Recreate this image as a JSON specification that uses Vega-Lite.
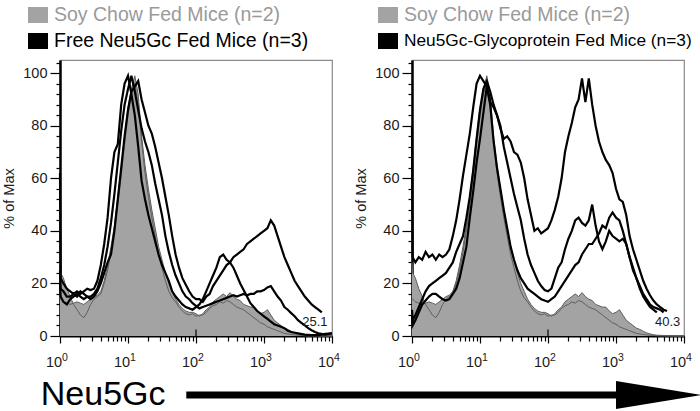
{
 "$schema": "https://vega.github.io/schema/vega-lite/v6.json",
 "padding": {"left": 1, "top": 4, "right": 0, "bottom": 0},
 "background": "white",
 "config": {
  "font": "Liberation Sans",
  "view": {"stroke": "#8a8a8a", "strokeWidth": 1.2},
  "axis": {"grid": false, "domainColor": "#000000", "tickColor": "#000000", "labelColor": "#1a1a1a", "titleColor": "#1a1a1a", "labelFont": "Liberation Sans", "titleFont": "Liberation Sans", "labelFontSize": 14.5, "titleFontSize": 14.5, "titleFontWeight": "normal"}
 },
 "datasets": {
  "soy": [
   {"mouse":"S1","diet":"soy","intensity":1,"pct":14},{"mouse":"S1","diet":"soy","intensity":1.023,"pct":14},{"mouse":"S1","diet":"soy","intensity":1.122,"pct":13},{"mouse":"S1","diet":"soy","intensity":1.259,"pct":12.5},{"mouse":"S1","diet":"soy","intensity":1.413,"pct":12},{"mouse":"S1","diet":"soy","intensity":1.585,"pct":12.5},{"mouse":"S1","diet":"soy","intensity":1.778,"pct":13},{"mouse":"S1","diet":"soy","intensity":1.995,"pct":12.5},{"mouse":"S1","diet":"soy","intensity":2.239,"pct":12},{"mouse":"S1","diet":"soy","intensity":2.512,"pct":13},{"mouse":"S1","diet":"soy","intensity":2.818,"pct":14},{"mouse":"S1","diet":"soy","intensity":3.162,"pct":15},{"mouse":"S1","diet":"soy","intensity":3.548,"pct":15.5},{"mouse":"S1","diet":"soy","intensity":3.981,"pct":17},{"mouse":"S1","diet":"soy","intensity":4.467,"pct":21},{"mouse":"S1","diet":"soy","intensity":5.012,"pct":27},{"mouse":"S1","diet":"soy","intensity":5.623,"pct":34},{"mouse":"S1","diet":"soy","intensity":6.31,"pct":42},{"mouse":"S1","diet":"soy","intensity":7.079,"pct":53},{"mouse":"S1","diet":"soy","intensity":7.943,"pct":64},{"mouse":"S1","diet":"soy","intensity":8.913,"pct":76},{"mouse":"S1","diet":"soy","intensity":10,"pct":87},{"mouse":"S1","diet":"soy","intensity":11.22,"pct":94},{"mouse":"S1","diet":"soy","intensity":12.59,"pct":99},{"mouse":"S1","diet":"soy","intensity":14.13,"pct":92},{"mouse":"S1","diet":"soy","intensity":15.85,"pct":76},{"mouse":"S1","diet":"soy","intensity":17.78,"pct":65},{"mouse":"S1","diet":"soy","intensity":19.95,"pct":56},{"mouse":"S1","diet":"soy","intensity":22.39,"pct":48},{"mouse":"S1","diet":"soy","intensity":25.12,"pct":41},{"mouse":"S1","diet":"soy","intensity":28.18,"pct":34},{"mouse":"S1","diet":"soy","intensity":31.62,"pct":29},{"mouse":"S1","diet":"soy","intensity":35.48,"pct":24},{"mouse":"S1","diet":"soy","intensity":39.81,"pct":20},{"mouse":"S1","diet":"soy","intensity":44.67,"pct":17},{"mouse":"S1","diet":"soy","intensity":50.12,"pct":14},{"mouse":"S1","diet":"soy","intensity":56.23,"pct":12},{"mouse":"S1","diet":"soy","intensity":63.1,"pct":10.5},{"mouse":"S1","diet":"soy","intensity":70.79,"pct":9.5},{"mouse":"S1","diet":"soy","intensity":79.43,"pct":9},{"mouse":"S1","diet":"soy","intensity":89.13,"pct":9},{"mouse":"S1","diet":"soy","intensity":100,"pct":8.5},{"mouse":"S1","diet":"soy","intensity":112.2,"pct":7.5},{"mouse":"S1","diet":"soy","intensity":125.9,"pct":8.5},{"mouse":"S1","diet":"soy","intensity":141.3,"pct":10},{"mouse":"S1","diet":"soy","intensity":158.5,"pct":11},{"mouse":"S1","diet":"soy","intensity":177.8,"pct":13},{"mouse":"S1","diet":"soy","intensity":199.5,"pct":14},{"mouse":"S1","diet":"soy","intensity":223.9,"pct":15},{"mouse":"S1","diet":"soy","intensity":251.2,"pct":16},{"mouse":"S1","diet":"soy","intensity":281.8,"pct":15},{"mouse":"S1","diet":"soy","intensity":316.2,"pct":16.5},{"mouse":"S1","diet":"soy","intensity":354.8,"pct":15},{"mouse":"S1","diet":"soy","intensity":398.1,"pct":14},{"mouse":"S1","diet":"soy","intensity":446.7,"pct":13.5},{"mouse":"S1","diet":"soy","intensity":501.2,"pct":12},{"mouse":"S1","diet":"soy","intensity":562.3,"pct":11.5},{"mouse":"S1","diet":"soy","intensity":631,"pct":11},{"mouse":"S1","diet":"soy","intensity":707.9,"pct":11},{"mouse":"S1","diet":"soy","intensity":794.3,"pct":9.5},{"mouse":"S1","diet":"soy","intensity":891.3,"pct":8.5},{"mouse":"S1","diet":"soy","intensity":1000,"pct":9},{"mouse":"S1","diet":"soy","intensity":1122,"pct":10},{"mouse":"S1","diet":"soy","intensity":1259,"pct":8},{"mouse":"S1","diet":"soy","intensity":1413,"pct":6},{"mouse":"S1","diet":"soy","intensity":1585,"pct":5},{"mouse":"S1","diet":"soy","intensity":1778,"pct":4},{"mouse":"S1","diet":"soy","intensity":1995,"pct":3},{"mouse":"S1","diet":"soy","intensity":2239,"pct":2.5},{"mouse":"S1","diet":"soy","intensity":2512,"pct":1.8},{"mouse":"S1","diet":"soy","intensity":2818,"pct":1.2},{"mouse":"S1","diet":"soy","intensity":3162,"pct":0.8},{"mouse":"S1","diet":"soy","intensity":3548,"pct":0.5},{"mouse":"S1","diet":"soy","intensity":3981,"pct":0.3},{"mouse":"S1","diet":"soy","intensity":5012,"pct":0.2},{"mouse":"S1","diet":"soy","intensity":6310,"pct":0.1},{"mouse":"S1","diet":"soy","intensity":7943,"pct":0},{"mouse":"S1","diet":"soy","intensity":10000,"pct":0},
   {"mouse":"S2","diet":"soy","intensity":1,"pct":28},{"mouse":"S2","diet":"soy","intensity":1.023,"pct":24},{"mouse":"S2","diet":"soy","intensity":1.122,"pct":22},{"mouse":"S2","diet":"soy","intensity":1.259,"pct":18},{"mouse":"S2","diet":"soy","intensity":1.413,"pct":15},{"mouse":"S2","diet":"soy","intensity":1.585,"pct":12},{"mouse":"S2","diet":"soy","intensity":1.778,"pct":10},{"mouse":"S2","diet":"soy","intensity":1.995,"pct":8},{"mouse":"S2","diet":"soy","intensity":2.239,"pct":7},{"mouse":"S2","diet":"soy","intensity":2.512,"pct":9},{"mouse":"S2","diet":"soy","intensity":2.818,"pct":12},{"mouse":"S2","diet":"soy","intensity":3.162,"pct":14},{"mouse":"S2","diet":"soy","intensity":3.548,"pct":15},{"mouse":"S2","diet":"soy","intensity":3.981,"pct":16},{"mouse":"S2","diet":"soy","intensity":4.467,"pct":20},{"mouse":"S2","diet":"soy","intensity":5.012,"pct":25},{"mouse":"S2","diet":"soy","intensity":5.623,"pct":32},{"mouse":"S2","diet":"soy","intensity":6.31,"pct":40},{"mouse":"S2","diet":"soy","intensity":7.079,"pct":50},{"mouse":"S2","diet":"soy","intensity":7.943,"pct":61},{"mouse":"S2","diet":"soy","intensity":8.913,"pct":73},{"mouse":"S2","diet":"soy","intensity":10,"pct":84},{"mouse":"S2","diet":"soy","intensity":11.22,"pct":92},{"mouse":"S2","diet":"soy","intensity":12.59,"pct":96},{"mouse":"S2","diet":"soy","intensity":14.13,"pct":88},{"mouse":"S2","diet":"soy","intensity":15.85,"pct":74},{"mouse":"S2","diet":"soy","intensity":17.78,"pct":62},{"mouse":"S2","diet":"soy","intensity":19.95,"pct":53},{"mouse":"S2","diet":"soy","intensity":22.39,"pct":45},{"mouse":"S2","diet":"soy","intensity":25.12,"pct":38},{"mouse":"S2","diet":"soy","intensity":28.18,"pct":31},{"mouse":"S2","diet":"soy","intensity":31.62,"pct":26},{"mouse":"S2","diet":"soy","intensity":35.48,"pct":21},{"mouse":"S2","diet":"soy","intensity":39.81,"pct":17},{"mouse":"S2","diet":"soy","intensity":44.67,"pct":14.5},{"mouse":"S2","diet":"soy","intensity":50.12,"pct":13},{"mouse":"S2","diet":"soy","intensity":56.23,"pct":11},{"mouse":"S2","diet":"soy","intensity":63.1,"pct":9.5},{"mouse":"S2","diet":"soy","intensity":70.79,"pct":8.5},{"mouse":"S2","diet":"soy","intensity":79.43,"pct":8},{"mouse":"S2","diet":"soy","intensity":89.13,"pct":8.5},{"mouse":"S2","diet":"soy","intensity":100,"pct":7.5},{"mouse":"S2","diet":"soy","intensity":112.2,"pct":8},{"mouse":"S2","diet":"soy","intensity":125.9,"pct":8},{"mouse":"S2","diet":"soy","intensity":141.3,"pct":9},{"mouse":"S2","diet":"soy","intensity":158.5,"pct":10.5},{"mouse":"S2","diet":"soy","intensity":177.8,"pct":11.5},{"mouse":"S2","diet":"soy","intensity":199.5,"pct":12},{"mouse":"S2","diet":"soy","intensity":223.9,"pct":13},{"mouse":"S2","diet":"soy","intensity":251.2,"pct":12.5},{"mouse":"S2","diet":"soy","intensity":281.8,"pct":13.5},{"mouse":"S2","diet":"soy","intensity":316.2,"pct":13},{"mouse":"S2","diet":"soy","intensity":354.8,"pct":12},{"mouse":"S2","diet":"soy","intensity":398.1,"pct":11},{"mouse":"S2","diet":"soy","intensity":446.7,"pct":10.5},{"mouse":"S2","diet":"soy","intensity":501.2,"pct":10},{"mouse":"S2","diet":"soy","intensity":562.3,"pct":9},{"mouse":"S2","diet":"soy","intensity":631,"pct":8},{"mouse":"S2","diet":"soy","intensity":707.9,"pct":7},{"mouse":"S2","diet":"soy","intensity":794.3,"pct":6},{"mouse":"S2","diet":"soy","intensity":891.3,"pct":5},{"mouse":"S2","diet":"soy","intensity":1000,"pct":4.5},{"mouse":"S2","diet":"soy","intensity":1122,"pct":3.5},{"mouse":"S2","diet":"soy","intensity":1259,"pct":3},{"mouse":"S2","diet":"soy","intensity":1413,"pct":2.5},{"mouse":"S2","diet":"soy","intensity":1585,"pct":2},{"mouse":"S2","diet":"soy","intensity":1778,"pct":1.5},{"mouse":"S2","diet":"soy","intensity":1995,"pct":1},{"mouse":"S2","diet":"soy","intensity":2239,"pct":0.8},{"mouse":"S2","diet":"soy","intensity":2512,"pct":0.6},{"mouse":"S2","diet":"soy","intensity":2818,"pct":0.4},{"mouse":"S2","diet":"soy","intensity":3162,"pct":0.3},{"mouse":"S2","diet":"soy","intensity":3548,"pct":0.2},{"mouse":"S2","diet":"soy","intensity":3981,"pct":0.1},{"mouse":"S2","diet":"soy","intensity":5012,"pct":0},{"mouse":"S2","diet":"soy","intensity":10000,"pct":0}
  ],
  "free": [
   {"mouse":"F1","diet":"free","intensity":1,"pct":62},{"mouse":"F1","diet":"free","intensity":1.023,"pct":22},{"mouse":"F1","diet":"free","intensity":1.122,"pct":20},{"mouse":"F1","diet":"free","intensity":1.259,"pct":18},{"mouse":"F1","diet":"free","intensity":1.413,"pct":17},{"mouse":"F1","diet":"free","intensity":1.585,"pct":16},{"mouse":"F1","diet":"free","intensity":1.778,"pct":17},{"mouse":"F1","diet":"free","intensity":1.995,"pct":16},{"mouse":"F1","diet":"free","intensity":2.239,"pct":17},{"mouse":"F1","diet":"free","intensity":2.512,"pct":18},{"mouse":"F1","diet":"free","intensity":2.818,"pct":17.5},{"mouse":"F1","diet":"free","intensity":3.162,"pct":18},{"mouse":"F1","diet":"free","intensity":3.548,"pct":21},{"mouse":"F1","diet":"free","intensity":3.981,"pct":27},{"mouse":"F1","diet":"free","intensity":4.467,"pct":35},{"mouse":"F1","diet":"free","intensity":5.012,"pct":45},{"mouse":"F1","diet":"free","intensity":5.623,"pct":60},{"mouse":"F1","diet":"free","intensity":6.31,"pct":70},{"mouse":"F1","diet":"free","intensity":7.079,"pct":73},{"mouse":"F1","diet":"free","intensity":7.943,"pct":88},{"mouse":"F1","diet":"free","intensity":8.913,"pct":96},{"mouse":"F1","diet":"free","intensity":10,"pct":99},{"mouse":"F1","diet":"free","intensity":11.22,"pct":92},{"mouse":"F1","diet":"free","intensity":12.59,"pct":84},{"mouse":"F1","diet":"free","intensity":14.13,"pct":72},{"mouse":"F1","diet":"free","intensity":15.85,"pct":59},{"mouse":"F1","diet":"free","intensity":17.78,"pct":52},{"mouse":"F1","diet":"free","intensity":19.95,"pct":46},{"mouse":"F1","diet":"free","intensity":22.39,"pct":41},{"mouse":"F1","diet":"free","intensity":25.12,"pct":36},{"mouse":"F1","diet":"free","intensity":28.18,"pct":31},{"mouse":"F1","diet":"free","intensity":31.62,"pct":27},{"mouse":"F1","diet":"free","intensity":35.48,"pct":24},{"mouse":"F1","diet":"free","intensity":39.81,"pct":21},{"mouse":"F1","diet":"free","intensity":44.67,"pct":17},{"mouse":"F1","diet":"free","intensity":50.12,"pct":15},{"mouse":"F1","diet":"free","intensity":56.23,"pct":13.5},{"mouse":"F1","diet":"free","intensity":63.1,"pct":12},{"mouse":"F1","diet":"free","intensity":70.79,"pct":11},{"mouse":"F1","diet":"free","intensity":79.43,"pct":10.5},{"mouse":"F1","diet":"free","intensity":89.13,"pct":10},{"mouse":"F1","diet":"free","intensity":100,"pct":11},{"mouse":"F1","diet":"free","intensity":112.2,"pct":12},{"mouse":"F1","diet":"free","intensity":125.9,"pct":14},{"mouse":"F1","diet":"free","intensity":141.3,"pct":17},{"mouse":"F1","diet":"free","intensity":158.5,"pct":20},{"mouse":"F1","diet":"free","intensity":177.8,"pct":23},{"mouse":"F1","diet":"free","intensity":199.5,"pct":26},{"mouse":"F1","diet":"free","intensity":223.9,"pct":30},{"mouse":"F1","diet":"free","intensity":251.2,"pct":31},{"mouse":"F1","diet":"free","intensity":281.8,"pct":29},{"mouse":"F1","diet":"free","intensity":316.2,"pct":28},{"mouse":"F1","diet":"free","intensity":354.8,"pct":26},{"mouse":"F1","diet":"free","intensity":398.1,"pct":23},{"mouse":"F1","diet":"free","intensity":446.7,"pct":20},{"mouse":"F1","diet":"free","intensity":501.2,"pct":17.5},{"mouse":"F1","diet":"free","intensity":562.3,"pct":15},{"mouse":"F1","diet":"free","intensity":631,"pct":12.5},{"mouse":"F1","diet":"free","intensity":707.9,"pct":11},{"mouse":"F1","diet":"free","intensity":794.3,"pct":9.5},{"mouse":"F1","diet":"free","intensity":891.3,"pct":8.5},{"mouse":"F1","diet":"free","intensity":1000,"pct":7.5},{"mouse":"F1","diet":"free","intensity":1122,"pct":6.5},{"mouse":"F1","diet":"free","intensity":1259,"pct":5.5},{"mouse":"F1","diet":"free","intensity":1413,"pct":4.5},{"mouse":"F1","diet":"free","intensity":1585,"pct":4},{"mouse":"F1","diet":"free","intensity":1778,"pct":3.5},{"mouse":"F1","diet":"free","intensity":1995,"pct":3},{"mouse":"F1","diet":"free","intensity":2239,"pct":2},{"mouse":"F1","diet":"free","intensity":2512,"pct":1.5},{"mouse":"F1","diet":"free","intensity":3162,"pct":1},{"mouse":"F1","diet":"free","intensity":3981,"pct":0.5},{"mouse":"F1","diet":"free","intensity":5012,"pct":0.3},{"mouse":"F1","diet":"free","intensity":6310,"pct":0.3},{"mouse":"F1","diet":"free","intensity":7943,"pct":0.8},{"mouse":"F1","diet":"free","intensity":10000,"pct":1},
   {"mouse":"F2","diet":"free","intensity":1,"pct":20},{"mouse":"F2","diet":"free","intensity":1.023,"pct":15},{"mouse":"F2","diet":"free","intensity":1.122,"pct":13},{"mouse":"F2","diet":"free","intensity":1.259,"pct":12},{"mouse":"F2","diet":"free","intensity":1.413,"pct":14},{"mouse":"F2","diet":"free","intensity":1.585,"pct":15},{"mouse":"F2","diet":"free","intensity":1.778,"pct":16},{"mouse":"F2","diet":"free","intensity":1.995,"pct":15},{"mouse":"F2","diet":"free","intensity":2.239,"pct":14},{"mouse":"F2","diet":"free","intensity":2.512,"pct":15},{"mouse":"F2","diet":"free","intensity":2.818,"pct":14},{"mouse":"F2","diet":"free","intensity":3.162,"pct":15},{"mouse":"F2","diet":"free","intensity":3.548,"pct":17},{"mouse":"F2","diet":"free","intensity":3.981,"pct":20},{"mouse":"F2","diet":"free","intensity":4.467,"pct":24},{"mouse":"F2","diet":"free","intensity":5.012,"pct":28},{"mouse":"F2","diet":"free","intensity":5.623,"pct":31},{"mouse":"F2","diet":"free","intensity":6.31,"pct":40},{"mouse":"F2","diet":"free","intensity":7.079,"pct":52},{"mouse":"F2","diet":"free","intensity":7.943,"pct":64},{"mouse":"F2","diet":"free","intensity":8.913,"pct":76},{"mouse":"F2","diet":"free","intensity":10,"pct":86},{"mouse":"F2","diet":"free","intensity":11.22,"pct":93},{"mouse":"F2","diet":"free","intensity":12.59,"pct":95},{"mouse":"F2","diet":"free","intensity":14.13,"pct":97},{"mouse":"F2","diet":"free","intensity":15.85,"pct":90},{"mouse":"F2","diet":"free","intensity":17.78,"pct":85},{"mouse":"F2","diet":"free","intensity":19.95,"pct":80},{"mouse":"F2","diet":"free","intensity":22.39,"pct":77},{"mouse":"F2","diet":"free","intensity":25.12,"pct":72},{"mouse":"F2","diet":"free","intensity":28.18,"pct":66},{"mouse":"F2","diet":"free","intensity":31.62,"pct":60},{"mouse":"F2","diet":"free","intensity":35.48,"pct":53},{"mouse":"F2","diet":"free","intensity":39.81,"pct":46},{"mouse":"F2","diet":"free","intensity":44.67,"pct":38},{"mouse":"F2","diet":"free","intensity":50.12,"pct":31},{"mouse":"F2","diet":"free","intensity":56.23,"pct":26},{"mouse":"F2","diet":"free","intensity":63.1,"pct":22},{"mouse":"F2","diet":"free","intensity":70.79,"pct":19.5},{"mouse":"F2","diet":"free","intensity":79.43,"pct":17},{"mouse":"F2","diet":"free","intensity":89.13,"pct":15},{"mouse":"F2","diet":"free","intensity":100,"pct":14},{"mouse":"F2","diet":"free","intensity":112.2,"pct":14},{"mouse":"F2","diet":"free","intensity":125.9,"pct":13},{"mouse":"F2","diet":"free","intensity":141.3,"pct":15},{"mouse":"F2","diet":"free","intensity":158.5,"pct":16},{"mouse":"F2","diet":"free","intensity":177.8,"pct":19},{"mouse":"F2","diet":"free","intensity":199.5,"pct":21},{"mouse":"F2","diet":"free","intensity":223.9,"pct":23},{"mouse":"F2","diet":"free","intensity":251.2,"pct":25},{"mouse":"F2","diet":"free","intensity":281.8,"pct":27},{"mouse":"F2","diet":"free","intensity":316.2,"pct":28},{"mouse":"F2","diet":"free","intensity":354.8,"pct":30},{"mouse":"F2","diet":"free","intensity":398.1,"pct":31},{"mouse":"F2","diet":"free","intensity":446.7,"pct":32},{"mouse":"F2","diet":"free","intensity":501.2,"pct":33},{"mouse":"F2","diet":"free","intensity":562.3,"pct":35},{"mouse":"F2","diet":"free","intensity":631,"pct":36},{"mouse":"F2","diet":"free","intensity":707.9,"pct":37},{"mouse":"F2","diet":"free","intensity":794.3,"pct":38},{"mouse":"F2","diet":"free","intensity":891.3,"pct":39},{"mouse":"F2","diet":"free","intensity":1000,"pct":40},{"mouse":"F2","diet":"free","intensity":1122,"pct":41},{"mouse":"F2","diet":"free","intensity":1259,"pct":44},{"mouse":"F2","diet":"free","intensity":1413,"pct":42},{"mouse":"F2","diet":"free","intensity":1585,"pct":38},{"mouse":"F2","diet":"free","intensity":1778,"pct":34},{"mouse":"F2","diet":"free","intensity":1995,"pct":30},{"mouse":"F2","diet":"free","intensity":2239,"pct":27},{"mouse":"F2","diet":"free","intensity":2512,"pct":24},{"mouse":"F2","diet":"free","intensity":2818,"pct":21},{"mouse":"F2","diet":"free","intensity":3162,"pct":19},{"mouse":"F2","diet":"free","intensity":3548,"pct":17},{"mouse":"F2","diet":"free","intensity":3981,"pct":15},{"mouse":"F2","diet":"free","intensity":4467,"pct":13.5},{"mouse":"F2","diet":"free","intensity":5012,"pct":12},{"mouse":"F2","diet":"free","intensity":5623,"pct":11},{"mouse":"F2","diet":"free","intensity":6310,"pct":10},{"mouse":"F2","diet":"free","intensity":7079,"pct":9},
   {"mouse":"F3","diet":"free","intensity":1,"pct":25},{"mouse":"F3","diet":"free","intensity":1.023,"pct":18},{"mouse":"F3","diet":"free","intensity":1.122,"pct":17},{"mouse":"F3","diet":"free","intensity":1.259,"pct":15},{"mouse":"F3","diet":"free","intensity":1.413,"pct":15},{"mouse":"F3","diet":"free","intensity":1.585,"pct":16},{"mouse":"F3","diet":"free","intensity":1.778,"pct":15},{"mouse":"F3","diet":"free","intensity":1.995,"pct":17},{"mouse":"F3","diet":"free","intensity":2.239,"pct":16},{"mouse":"F3","diet":"free","intensity":2.512,"pct":15},{"mouse":"F3","diet":"free","intensity":2.818,"pct":15},{"mouse":"F3","diet":"free","intensity":3.162,"pct":16},{"mouse":"F3","diet":"free","intensity":3.548,"pct":18},{"mouse":"F3","diet":"free","intensity":3.981,"pct":22},{"mouse":"F3","diet":"free","intensity":4.467,"pct":27},{"mouse":"F3","diet":"free","intensity":5.012,"pct":34},{"mouse":"F3","diet":"free","intensity":5.623,"pct":43},{"mouse":"F3","diet":"free","intensity":6.31,"pct":54},{"mouse":"F3","diet":"free","intensity":7.079,"pct":66},{"mouse":"F3","diet":"free","intensity":7.943,"pct":78},{"mouse":"F3","diet":"free","intensity":8.913,"pct":88},{"mouse":"F3","diet":"free","intensity":10,"pct":94},{"mouse":"F3","diet":"free","intensity":11.22,"pct":99},{"mouse":"F3","diet":"free","intensity":12.59,"pct":93},{"mouse":"F3","diet":"free","intensity":14.13,"pct":86},{"mouse":"F3","diet":"free","intensity":15.85,"pct":79},{"mouse":"F3","diet":"free","intensity":17.78,"pct":74},{"mouse":"F3","diet":"free","intensity":19.95,"pct":70},{"mouse":"F3","diet":"free","intensity":22.39,"pct":65},{"mouse":"F3","diet":"free","intensity":25.12,"pct":58},{"mouse":"F3","diet":"free","intensity":28.18,"pct":52},{"mouse":"F3","diet":"free","intensity":31.62,"pct":46},{"mouse":"F3","diet":"free","intensity":35.48,"pct":38},{"mouse":"F3","diet":"free","intensity":39.81,"pct":32},{"mouse":"F3","diet":"free","intensity":44.67,"pct":27},{"mouse":"F3","diet":"free","intensity":50.12,"pct":23},{"mouse":"F3","diet":"free","intensity":56.23,"pct":20},{"mouse":"F3","diet":"free","intensity":63.1,"pct":17},{"mouse":"F3","diet":"free","intensity":70.79,"pct":15},{"mouse":"F3","diet":"free","intensity":79.43,"pct":14},{"mouse":"F3","diet":"free","intensity":89.13,"pct":12.5},{"mouse":"F3","diet":"free","intensity":100,"pct":11.5},{"mouse":"F3","diet":"free","intensity":112.2,"pct":10.5},{"mouse":"F3","diet":"free","intensity":125.9,"pct":11},{"mouse":"F3","diet":"free","intensity":141.3,"pct":11.5},{"mouse":"F3","diet":"free","intensity":158.5,"pct":12},{"mouse":"F3","diet":"free","intensity":177.8,"pct":12.5},{"mouse":"F3","diet":"free","intensity":199.5,"pct":13},{"mouse":"F3","diet":"free","intensity":223.9,"pct":13.5},{"mouse":"F3","diet":"free","intensity":251.2,"pct":14},{"mouse":"F3","diet":"free","intensity":281.8,"pct":14.5},{"mouse":"F3","diet":"free","intensity":316.2,"pct":15},{"mouse":"F3","diet":"free","intensity":354.8,"pct":15.5},{"mouse":"F3","diet":"free","intensity":398.1,"pct":15},{"mouse":"F3","diet":"free","intensity":446.7,"pct":15.5},{"mouse":"F3","diet":"free","intensity":501.2,"pct":16},{"mouse":"F3","diet":"free","intensity":562.3,"pct":15.5},{"mouse":"F3","diet":"free","intensity":631,"pct":16},{"mouse":"F3","diet":"free","intensity":707.9,"pct":16},{"mouse":"F3","diet":"free","intensity":794.3,"pct":17},{"mouse":"F3","diet":"free","intensity":891.3,"pct":17},{"mouse":"F3","diet":"free","intensity":1000,"pct":17.5},{"mouse":"F3","diet":"free","intensity":1122,"pct":18.5},{"mouse":"F3","diet":"free","intensity":1259,"pct":19},{"mouse":"F3","diet":"free","intensity":1413,"pct":17},{"mouse":"F3","diet":"free","intensity":1585,"pct":15},{"mouse":"F3","diet":"free","intensity":1778,"pct":13.5},{"mouse":"F3","diet":"free","intensity":1995,"pct":11},{"mouse":"F3","diet":"free","intensity":2239,"pct":10},{"mouse":"F3","diet":"free","intensity":2512,"pct":8.7},{"mouse":"F3","diet":"free","intensity":2818,"pct":7.5},{"mouse":"F3","diet":"free","intensity":3162,"pct":6},{"mouse":"F3","diet":"free","intensity":3548,"pct":5},{"mouse":"F3","diet":"free","intensity":3981,"pct":4},{"mouse":"F3","diet":"free","intensity":4467,"pct":3},{"mouse":"F3","diet":"free","intensity":5012,"pct":2.2},{"mouse":"F3","diet":"free","intensity":5623,"pct":1.5},{"mouse":"F3","diet":"free","intensity":6310,"pct":1},{"mouse":"F3","diet":"free","intensity":7943,"pct":0.5},{"mouse":"F3","diet":"free","intensity":10000,"pct":1}
  ],
  "glyco": [
   {"mouse":"G1","diet":"glyco","intensity":1,"pct":80},{"mouse":"G1","diet":"glyco","intensity":1.023,"pct":30},{"mouse":"G1","diet":"glyco","intensity":1.122,"pct":28},{"mouse":"G1","diet":"glyco","intensity":1.259,"pct":30},{"mouse":"G1","diet":"glyco","intensity":1.413,"pct":29},{"mouse":"G1","diet":"glyco","intensity":1.585,"pct":32},{"mouse":"G1","diet":"glyco","intensity":1.778,"pct":30},{"mouse":"G1","diet":"glyco","intensity":1.995,"pct":31},{"mouse":"G1","diet":"glyco","intensity":2.239,"pct":29},{"mouse":"G1","diet":"glyco","intensity":2.512,"pct":31},{"mouse":"G1","diet":"glyco","intensity":2.818,"pct":30},{"mouse":"G1","diet":"glyco","intensity":3.162,"pct":31},{"mouse":"G1","diet":"glyco","intensity":3.548,"pct":33},{"mouse":"G1","diet":"glyco","intensity":3.981,"pct":38},{"mouse":"G1","diet":"glyco","intensity":4.467,"pct":44},{"mouse":"G1","diet":"glyco","intensity":5.012,"pct":52},{"mouse":"G1","diet":"glyco","intensity":5.623,"pct":61},{"mouse":"G1","diet":"glyco","intensity":6.31,"pct":69},{"mouse":"G1","diet":"glyco","intensity":7.079,"pct":77},{"mouse":"G1","diet":"glyco","intensity":7.943,"pct":87},{"mouse":"G1","diet":"glyco","intensity":8.913,"pct":96},{"mouse":"G1","diet":"glyco","intensity":10,"pct":99},{"mouse":"G1","diet":"glyco","intensity":11.22,"pct":97},{"mouse":"G1","diet":"glyco","intensity":12.59,"pct":95},{"mouse":"G1","diet":"glyco","intensity":14.13,"pct":89},{"mouse":"G1","diet":"glyco","intensity":15.85,"pct":87},{"mouse":"G1","diet":"glyco","intensity":17.78,"pct":84},{"mouse":"G1","diet":"glyco","intensity":19.95,"pct":79},{"mouse":"G1","diet":"glyco","intensity":22.39,"pct":75},{"mouse":"G1","diet":"glyco","intensity":25.12,"pct":76},{"mouse":"G1","diet":"glyco","intensity":28.18,"pct":74},{"mouse":"G1","diet":"glyco","intensity":31.62,"pct":70},{"mouse":"G1","diet":"glyco","intensity":35.48,"pct":69},{"mouse":"G1","diet":"glyco","intensity":39.81,"pct":66},{"mouse":"G1","diet":"glyco","intensity":44.67,"pct":60},{"mouse":"G1","diet":"glyco","intensity":50.12,"pct":52},{"mouse":"G1","diet":"glyco","intensity":56.23,"pct":46},{"mouse":"G1","diet":"glyco","intensity":63.1,"pct":40},{"mouse":"G1","diet":"glyco","intensity":70.79,"pct":41},{"mouse":"G1","diet":"glyco","intensity":79.43,"pct":39},{"mouse":"G1","diet":"glyco","intensity":89.13,"pct":40},{"mouse":"G1","diet":"glyco","intensity":100,"pct":41},{"mouse":"G1","diet":"glyco","intensity":112.2,"pct":44},{"mouse":"G1","diet":"glyco","intensity":125.9,"pct":48},{"mouse":"G1","diet":"glyco","intensity":141.3,"pct":53},{"mouse":"G1","diet":"glyco","intensity":158.5,"pct":60},{"mouse":"G1","diet":"glyco","intensity":177.8,"pct":70},{"mouse":"G1","diet":"glyco","intensity":199.5,"pct":76},{"mouse":"G1","diet":"glyco","intensity":223.9,"pct":81},{"mouse":"G1","diet":"glyco","intensity":251.2,"pct":87},{"mouse":"G1","diet":"glyco","intensity":281.8,"pct":90},{"mouse":"G1","diet":"glyco","intensity":316.2,"pct":98},{"mouse":"G1","diet":"glyco","intensity":354.8,"pct":89},{"mouse":"G1","diet":"glyco","intensity":398.1,"pct":98},{"mouse":"G1","diet":"glyco","intensity":446.7,"pct":88},{"mouse":"G1","diet":"glyco","intensity":501.2,"pct":80},{"mouse":"G1","diet":"glyco","intensity":562.3,"pct":74},{"mouse":"G1","diet":"glyco","intensity":631,"pct":70},{"mouse":"G1","diet":"glyco","intensity":707.9,"pct":67},{"mouse":"G1","diet":"glyco","intensity":794.3,"pct":65},{"mouse":"G1","diet":"glyco","intensity":891.3,"pct":62},{"mouse":"G1","diet":"glyco","intensity":1000,"pct":56},{"mouse":"G1","diet":"glyco","intensity":1122,"pct":52},{"mouse":"G1","diet":"glyco","intensity":1259,"pct":51},{"mouse":"G1","diet":"glyco","intensity":1413,"pct":46},{"mouse":"G1","diet":"glyco","intensity":1585,"pct":38},{"mouse":"G1","diet":"glyco","intensity":1778,"pct":33},{"mouse":"G1","diet":"glyco","intensity":1995,"pct":29},{"mouse":"G1","diet":"glyco","intensity":2239,"pct":25},{"mouse":"G1","diet":"glyco","intensity":2512,"pct":21},{"mouse":"G1","diet":"glyco","intensity":2818,"pct":18},{"mouse":"G1","diet":"glyco","intensity":3162,"pct":15.5},{"mouse":"G1","diet":"glyco","intensity":3548,"pct":13.5},{"mouse":"G1","diet":"glyco","intensity":3981,"pct":12},{"mouse":"G1","diet":"glyco","intensity":4467,"pct":11},{"mouse":"G1","diet":"glyco","intensity":5012,"pct":10},{"mouse":"G1","diet":"glyco","intensity":5623,"pct":9.5},
   {"mouse":"G2","diet":"glyco","intensity":1,"pct":10},{"mouse":"G2","diet":"glyco","intensity":1.023,"pct":6},{"mouse":"G2","diet":"glyco","intensity":1.122,"pct":8},{"mouse":"G2","diet":"glyco","intensity":1.259,"pct":11},{"mouse":"G2","diet":"glyco","intensity":1.413,"pct":14},{"mouse":"G2","diet":"glyco","intensity":1.585,"pct":17},{"mouse":"G2","diet":"glyco","intensity":1.778,"pct":19},{"mouse":"G2","diet":"glyco","intensity":1.995,"pct":20},{"mouse":"G2","diet":"glyco","intensity":2.239,"pct":21},{"mouse":"G2","diet":"glyco","intensity":2.512,"pct":22},{"mouse":"G2","diet":"glyco","intensity":2.818,"pct":23},{"mouse":"G2","diet":"glyco","intensity":3.162,"pct":24},{"mouse":"G2","diet":"glyco","intensity":3.548,"pct":26},{"mouse":"G2","diet":"glyco","intensity":3.981,"pct":28},{"mouse":"G2","diet":"glyco","intensity":4.467,"pct":32},{"mouse":"G2","diet":"glyco","intensity":5.012,"pct":35},{"mouse":"G2","diet":"glyco","intensity":5.623,"pct":38},{"mouse":"G2","diet":"glyco","intensity":6.31,"pct":45},{"mouse":"G2","diet":"glyco","intensity":7.079,"pct":53},{"mouse":"G2","diet":"glyco","intensity":7.943,"pct":63},{"mouse":"G2","diet":"glyco","intensity":8.913,"pct":75},{"mouse":"G2","diet":"glyco","intensity":10,"pct":86},{"mouse":"G2","diet":"glyco","intensity":11.22,"pct":94},{"mouse":"G2","diet":"glyco","intensity":12.59,"pct":97},{"mouse":"G2","diet":"glyco","intensity":14.13,"pct":93},{"mouse":"G2","diet":"glyco","intensity":15.85,"pct":88},{"mouse":"G2","diet":"glyco","intensity":17.78,"pct":84},{"mouse":"G2","diet":"glyco","intensity":19.95,"pct":80},{"mouse":"G2","diet":"glyco","intensity":22.39,"pct":72},{"mouse":"G2","diet":"glyco","intensity":25.12,"pct":66},{"mouse":"G2","diet":"glyco","intensity":28.18,"pct":60},{"mouse":"G2","diet":"glyco","intensity":31.62,"pct":54},{"mouse":"G2","diet":"glyco","intensity":35.48,"pct":49},{"mouse":"G2","diet":"glyco","intensity":39.81,"pct":44},{"mouse":"G2","diet":"glyco","intensity":44.67,"pct":37},{"mouse":"G2","diet":"glyco","intensity":50.12,"pct":31},{"mouse":"G2","diet":"glyco","intensity":56.23,"pct":27},{"mouse":"G2","diet":"glyco","intensity":63.1,"pct":24},{"mouse":"G2","diet":"glyco","intensity":70.79,"pct":21},{"mouse":"G2","diet":"glyco","intensity":79.43,"pct":19},{"mouse":"G2","diet":"glyco","intensity":89.13,"pct":17.5},{"mouse":"G2","diet":"glyco","intensity":100,"pct":17},{"mouse":"G2","diet":"glyco","intensity":112.2,"pct":18},{"mouse":"G2","diet":"glyco","intensity":125.9,"pct":22},{"mouse":"G2","diet":"glyco","intensity":141.3,"pct":26},{"mouse":"G2","diet":"glyco","intensity":158.5,"pct":28},{"mouse":"G2","diet":"glyco","intensity":177.8,"pct":33},{"mouse":"G2","diet":"glyco","intensity":199.5,"pct":37},{"mouse":"G2","diet":"glyco","intensity":223.9,"pct":40},{"mouse":"G2","diet":"glyco","intensity":251.2,"pct":44},{"mouse":"G2","diet":"glyco","intensity":281.8,"pct":45},{"mouse":"G2","diet":"glyco","intensity":316.2,"pct":43},{"mouse":"G2","diet":"glyco","intensity":354.8,"pct":42},{"mouse":"G2","diet":"glyco","intensity":398.1,"pct":44},{"mouse":"G2","diet":"glyco","intensity":446.7,"pct":50},{"mouse":"G2","diet":"glyco","intensity":501.2,"pct":42},{"mouse":"G2","diet":"glyco","intensity":562.3,"pct":36},{"mouse":"G2","diet":"glyco","intensity":631,"pct":33},{"mouse":"G2","diet":"glyco","intensity":707.9,"pct":36},{"mouse":"G2","diet":"glyco","intensity":794.3,"pct":40},{"mouse":"G2","diet":"glyco","intensity":891.3,"pct":38},{"mouse":"G2","diet":"glyco","intensity":1000,"pct":37},{"mouse":"G2","diet":"glyco","intensity":1122,"pct":36},{"mouse":"G2","diet":"glyco","intensity":1259,"pct":37},{"mouse":"G2","diet":"glyco","intensity":1413,"pct":35},{"mouse":"G2","diet":"glyco","intensity":1585,"pct":30},{"mouse":"G2","diet":"glyco","intensity":1778,"pct":26},{"mouse":"G2","diet":"glyco","intensity":1995,"pct":22},{"mouse":"G2","diet":"glyco","intensity":2239,"pct":19},{"mouse":"G2","diet":"glyco","intensity":2512,"pct":16},{"mouse":"G2","diet":"glyco","intensity":2818,"pct":14},{"mouse":"G2","diet":"glyco","intensity":3162,"pct":12},{"mouse":"G2","diet":"glyco","intensity":3548,"pct":11},{"mouse":"G2","diet":"glyco","intensity":3981,"pct":10.5},{"mouse":"G2","diet":"glyco","intensity":4467,"pct":10},{"mouse":"G2","diet":"glyco","intensity":5012,"pct":9},
   {"mouse":"G3","diet":"glyco","intensity":1,"pct":8},{"mouse":"G3","diet":"glyco","intensity":1.023,"pct":4},{"mouse":"G3","diet":"glyco","intensity":1.122,"pct":6},{"mouse":"G3","diet":"glyco","intensity":1.259,"pct":9},{"mouse":"G3","diet":"glyco","intensity":1.413,"pct":12},{"mouse":"G3","diet":"glyco","intensity":1.585,"pct":13.5},{"mouse":"G3","diet":"glyco","intensity":1.778,"pct":15},{"mouse":"G3","diet":"glyco","intensity":1.995,"pct":16},{"mouse":"G3","diet":"glyco","intensity":2.239,"pct":16},{"mouse":"G3","diet":"glyco","intensity":2.512,"pct":15},{"mouse":"G3","diet":"glyco","intensity":2.818,"pct":14},{"mouse":"G3","diet":"glyco","intensity":3.162,"pct":13.5},{"mouse":"G3","diet":"glyco","intensity":3.548,"pct":14},{"mouse":"G3","diet":"glyco","intensity":3.981,"pct":16},{"mouse":"G3","diet":"glyco","intensity":4.467,"pct":18},{"mouse":"G3","diet":"glyco","intensity":5.012,"pct":22},{"mouse":"G3","diet":"glyco","intensity":5.623,"pct":28},{"mouse":"G3","diet":"glyco","intensity":6.31,"pct":34},{"mouse":"G3","diet":"glyco","intensity":7.079,"pct":45},{"mouse":"G3","diet":"glyco","intensity":7.943,"pct":55},{"mouse":"G3","diet":"glyco","intensity":8.913,"pct":66},{"mouse":"G3","diet":"glyco","intensity":10,"pct":75},{"mouse":"G3","diet":"glyco","intensity":11.22,"pct":85},{"mouse":"G3","diet":"glyco","intensity":12.59,"pct":95},{"mouse":"G3","diet":"glyco","intensity":14.13,"pct":88},{"mouse":"G3","diet":"glyco","intensity":15.85,"pct":74},{"mouse":"G3","diet":"glyco","intensity":17.78,"pct":64},{"mouse":"G3","diet":"glyco","intensity":19.95,"pct":56},{"mouse":"G3","diet":"glyco","intensity":22.39,"pct":48},{"mouse":"G3","diet":"glyco","intensity":25.12,"pct":41},{"mouse":"G3","diet":"glyco","intensity":28.18,"pct":34},{"mouse":"G3","diet":"glyco","intensity":31.62,"pct":29},{"mouse":"G3","diet":"glyco","intensity":35.48,"pct":25},{"mouse":"G3","diet":"glyco","intensity":39.81,"pct":22},{"mouse":"G3","diet":"glyco","intensity":44.67,"pct":20},{"mouse":"G3","diet":"glyco","intensity":50.12,"pct":18},{"mouse":"G3","diet":"glyco","intensity":56.23,"pct":17},{"mouse":"G3","diet":"glyco","intensity":63.1,"pct":16},{"mouse":"G3","diet":"glyco","intensity":70.79,"pct":15},{"mouse":"G3","diet":"glyco","intensity":79.43,"pct":14},{"mouse":"G3","diet":"glyco","intensity":89.13,"pct":13.5},{"mouse":"G3","diet":"glyco","intensity":100,"pct":13},{"mouse":"G3","diet":"glyco","intensity":112.2,"pct":14},{"mouse":"G3","diet":"glyco","intensity":125.9,"pct":15},{"mouse":"G3","diet":"glyco","intensity":141.3,"pct":17},{"mouse":"G3","diet":"glyco","intensity":158.5,"pct":19},{"mouse":"G3","diet":"glyco","intensity":177.8,"pct":21},{"mouse":"G3","diet":"glyco","intensity":199.5,"pct":23},{"mouse":"G3","diet":"glyco","intensity":223.9,"pct":25},{"mouse":"G3","diet":"glyco","intensity":251.2,"pct":27},{"mouse":"G3","diet":"glyco","intensity":281.8,"pct":28},{"mouse":"G3","diet":"glyco","intensity":316.2,"pct":31},{"mouse":"G3","diet":"glyco","intensity":354.8,"pct":33},{"mouse":"G3","diet":"glyco","intensity":398.1,"pct":35},{"mouse":"G3","diet":"glyco","intensity":446.7,"pct":35},{"mouse":"G3","diet":"glyco","intensity":501.2,"pct":37},{"mouse":"G3","diet":"glyco","intensity":562.3,"pct":39},{"mouse":"G3","diet":"glyco","intensity":631,"pct":42},{"mouse":"G3","diet":"glyco","intensity":707.9,"pct":41},{"mouse":"G3","diet":"glyco","intensity":794.3,"pct":45},{"mouse":"G3","diet":"glyco","intensity":891.3,"pct":47},{"mouse":"G3","diet":"glyco","intensity":1000,"pct":45},{"mouse":"G3","diet":"glyco","intensity":1122,"pct":44},{"mouse":"G3","diet":"glyco","intensity":1259,"pct":40},{"mouse":"G3","diet":"glyco","intensity":1413,"pct":35},{"mouse":"G3","diet":"glyco","intensity":1585,"pct":30},{"mouse":"G3","diet":"glyco","intensity":1778,"pct":25},{"mouse":"G3","diet":"glyco","intensity":1995,"pct":22},{"mouse":"G3","diet":"glyco","intensity":2239,"pct":18},{"mouse":"G3","diet":"glyco","intensity":2512,"pct":15},{"mouse":"G3","diet":"glyco","intensity":2818,"pct":13},{"mouse":"G3","diet":"glyco","intensity":3162,"pct":11},{"mouse":"G3","diet":"glyco","intensity":3548,"pct":10},{"mouse":"G3","diet":"glyco","intensity":3981,"pct":9}
  ]
 },
 "vconcat": [
  {
   "hconcat": [
    {
     "width": 272, "height": 276,
     "layer": [
      {
       "layer": [
        {
         "data": {"name": "soy"},
         "mark": {"type": "area", "opacity": 1, "interpolate": "linear"},
         "encoding": {
          "x": {"field": "intensity", "type": "quantitative", "scale": {"type": "log", "domain": [1, 10000]},
                "axis": {"title": null, "values": [1,2,3,4,5,6,7,8,9,10,20,30,40,50,60,70,80,90,100,200,300,400,500,600,700,800,900,1000,2000,3000,4000,5000,6000,7000,8000,9000,10000],
                         "labelExpr": "indexof([1,10,100,1000,10000], datum.value) >= 0 ? '10' : ''",
                         "tickSize": {"condition": {"test": "indexof([1,10,100,1000,10000], datum.value) >= 0", "value": 7}, "value": 5},
                         "tickWidth": 1.2, "domainWidth": 2, "labelPadding": 12, "labelOffset": -6.5, "labelFlush": false, "labelOverlap": false, "labelBound": false}},
          "y": {"field": "pct", "type": "quantitative", "stack": null, "scale": {"domain": [0, 105], "nice": false},
                "axis": {"title": "% of Max", "values": [0, 20, 40, 60, 80, 100], "tickSize": 10,
                         "tickWidth": 1.2, "domainWidth": 2.5, "labelPadding": 3, "titlePadding": 6, "labelFlush": false}},
          "detail": {"field": "mouse"},
          "fill": {"field": "diet", "type": "nominal", "scale": {"domain": ["soy", "free"], "range": ["#a3a3a3", "#000000"]},
                   "legend": {"orient": "none", "legendX": -32, "legendY": -55, "title": null, "direction": "vertical",
                              "symbolType": "M-1,-0.8H1V0.8H-1Z", "symbolSize": 400, "symbolStrokeWidth": 0, "symbolOpacity": 1,
                              "labelFont": "Liberation Sans", "labelFontSize": 19.5, "labelOffset": 6, "rowPadding": 6, "padding": 0, "labelLimit": 400,
                              "labelExpr": "datum.value == 'soy' ? 'Soy Chow Fed Mice (n=2)' : 'Free Neu5Gc Fed Mice (n=3)'",
                              "labelColor": {"expr": "datum.value == 'soy' ? '#9a9a9a' : '#000000'"}}}
         }
        },
        {
         "data": {"name": "soy"},
         "mark": {"type": "line", "stroke": "#5e5e5e", "strokeWidth": 1},
         "encoding": {"x": {"field": "intensity", "type": "quantitative"}, "y": {"field": "pct", "type": "quantitative"}, "detail": {"field": "mouse"}}
        },
        {
         "data": {"name": "free"},
         "mark": {"type": "line", "stroke": "#000000", "strokeWidth": 2.2},
         "encoding": {"x": {"field": "intensity", "type": "quantitative"}, "y": {"field": "pct", "type": "quantitative"}, "detail": {"field": "mouse"}}
        },
        {
         "data": {"values": [{"gate_pct": 25.1}]},
         "mark": {"type": "text", "fontSize": 13, "color": "#1a1a1a"},
         "encoding": {"x": {"datum": 5600, "type": "quantitative"}, "y": {"datum": 5.5, "type": "quantitative"}, "text": {"field": "gate_pct", "type": "quantitative", "format": ".1f"}}
        }
       ]
      },
      {
       "data": {"values": [{}]},
       "mark": {"type": "rule", "color": "#000000", "strokeWidth": 1.2},
       "encoding": {
        "x": {"datum": 100, "type": "quantitative", "scale": {"type": "log", "domain": [1, 10000]},
              "axis": {"orient": "bottom", "title": null, "values": [1, 10, 100, 1000, 10000], "domain": false, "ticks": false, "tickSize": 0,
                       "labelExpr": "datum.value == 1 ? '0' : datum.value == 10 ? '1' : datum.value == 100 ? '2' : datum.value == 1000 ? '3' : '4'",
                       "labelFontSize": 10.5, "labelPadding": 16, "labelOffset": 4.5, "labelFlush": false, "labelOverlap": false, "labelBound": false}},
        "y": {"datum": 0, "type": "quantitative", "scale": {"domain": [0, 105], "nice": false},
              "axis": {"orient": "left", "title": null, "values": [4,8,12,16,24,28,32,36,44,48,52,56,64,68,72,76,84,88,92,96,104], "labels": false, "domain": false, "tickSize": 4, "tickWidth": 1.2}},
        "y2": {"datum": 2.5}}
      }
     ],
     "resolve": {"scale": {"x": "independent", "y": "independent"}, "axis": {"x": "independent", "y": "independent"}}
    },
    {
     "width": 272, "height": 276,
     "layer": [
      {
       "layer": [
        {
         "data": {"name": "soy"},
         "mark": {"type": "area", "opacity": 1, "interpolate": "linear"},
         "encoding": {
          "x": {"field": "intensity", "type": "quantitative", "scale": {"type": "log", "domain": [1, 10000]},
                "axis": {"title": null, "values": [1,2,3,4,5,6,7,8,9,10,20,30,40,50,60,70,80,90,100,200,300,400,500,600,700,800,900,1000,2000,3000,4000,5000,6000,7000,8000,9000,10000],
                         "labelExpr": "indexof([1,10,100,1000,10000], datum.value) >= 0 ? '10' : ''",
                         "tickSize": {"condition": {"test": "indexof([1,10,100,1000,10000], datum.value) >= 0", "value": 7}, "value": 5},
                         "tickWidth": 1.2, "domainWidth": 2, "labelPadding": 12, "labelOffset": -6.5, "labelFlush": false, "labelOverlap": false, "labelBound": false}},
          "y": {"field": "pct", "type": "quantitative", "stack": null, "scale": {"domain": [0, 105], "nice": false},
                "axis": {"title": "% of Max", "values": [0, 20, 40, 60, 80, 100], "tickSize": 10,
                         "tickWidth": 1.2, "domainWidth": 2.5, "labelPadding": 3, "titlePadding": 6, "labelFlush": false}},
          "detail": {"field": "mouse"},
          "fill": {"field": "diet", "type": "nominal", "scale": {"domain": ["soy", "glyco"], "range": ["#a3a3a3", "#000000"]},
                   "legend": {"orient": "none", "legendX": -34, "legendY": -55, "title": null, "direction": "vertical",
                              "symbolType": "M-1,-0.8H1V0.8H-1Z", "symbolSize": 400, "symbolStrokeWidth": 0, "symbolOpacity": 1,
                              "labelFont": "Liberation Sans", "labelFontSize": {"expr": "datum.value == 'soy' ? 19.5 : 17.3"}, "labelOffset": 6, "rowPadding": 6, "padding": 0, "labelLimit": 400,
                              "labelExpr": "datum.value == 'soy' ? 'Soy Chow Fed Mice (n=2)' : 'Neu5Gc-Glycoprotein Fed Mice (n=3)'",
                              "labelColor": {"expr": "datum.value == 'soy' ? '#9a9a9a' : '#000000'"}}}
         }
        },
        {
         "data": {"name": "soy"},
         "mark": {"type": "line", "stroke": "#5e5e5e", "strokeWidth": 1},
         "encoding": {"x": {"field": "intensity", "type": "quantitative"}, "y": {"field": "pct", "type": "quantitative"}, "detail": {"field": "mouse"}}
        },
        {
         "data": {"name": "glyco"},
         "mark": {"type": "line", "stroke": "#000000", "strokeWidth": 2.2},
         "encoding": {"x": {"field": "intensity", "type": "quantitative"}, "y": {"field": "pct", "type": "quantitative"}, "detail": {"field": "mouse"}}
        },
        {
         "data": {"values": [{"gate_pct": 40.3}]},
         "mark": {"type": "text", "fontSize": 13, "color": "#1a1a1a"},
         "encoding": {"x": {"datum": 5750, "type": "quantitative"}, "y": {"datum": 5.5, "type": "quantitative"}, "text": {"field": "gate_pct", "type": "quantitative", "format": ".1f"}}
        }
       ]
      },
      {
       "data": {"values": [{}]},
       "mark": {"type": "rule", "color": "#000000", "strokeWidth": 1.2},
       "encoding": {
        "x": {"datum": 100, "type": "quantitative", "scale": {"type": "log", "domain": [1, 10000]},
              "axis": {"orient": "bottom", "title": null, "values": [1, 10, 100, 1000, 10000], "domain": false, "ticks": false, "tickSize": 0,
                       "labelExpr": "datum.value == 1 ? '0' : datum.value == 10 ? '1' : datum.value == 100 ? '2' : datum.value == 1000 ? '3' : '4'",
                       "labelFontSize": 10.5, "labelPadding": 16, "labelOffset": 4.5, "labelFlush": false, "labelOverlap": false, "labelBound": false}},
        "y": {"datum": 0, "type": "quantitative", "scale": {"domain": [0, 105], "nice": false},
              "axis": {"orient": "left", "title": null, "values": [4,8,12,16,24,28,32,36,44,48,52,56,64,68,72,76,84,88,92,96,104], "labels": false, "domain": false, "tickSize": 4, "tickWidth": 1.2}},
        "y2": {"datum": 2.5}}
      }
     ],
     "resolve": {"scale": {"x": "independent", "y": "independent"}, "axis": {"x": "independent", "y": "independent"}}
    }
   ],
   "spacing": 80,
   "bounds": "flush",
   "resolve": {"scale": {"fill": "independent", "x": "independent", "y": "independent"}, "legend": {"fill": "independent"}}
  },
  {
   "width": 641, "height": 40,
   "view": {"stroke": null},
   "data": {"values": [{"marker": "Neu5Gc"}]},
   "layer": [
    {"mark": {"type": "text", "align": "left", "baseline": "middle", "fontSize": 34, "font": "Liberation Sans", "color": "#000000"},
     "encoding": {"x": {"datum": -3, "type": "quantitative", "scale": {"domain": [0, 100], "nice": false, "zero": false}, "axis": null},
                  "y": {"datum": 0, "type": "quantitative", "scale": {"domain": [-1, 1]}, "axis": null},
                  "text": {"field": "marker", "type": "nominal"}}},
    {"mark": {"type": "rule", "strokeWidth": 7, "color": "#000000"},
     "encoding": {"x": {"datum": 19.7, "type": "quantitative"}, "x2": {"datum": 88.3}, "y": {"datum": 0, "type": "quantitative"}}},
    {"mark": {"type": "point", "shape": "M-1,-0.33L1,0L-1,0.33Z", "filled": true, "size": 7225, "color": "#000000", "opacity": 1, "strokeWidth": 0},
     "encoding": {"x": {"datum": 93.37, "type": "quantitative"}, "y": {"datum": 0, "type": "quantitative"}}}
   ]
  }
 ],
 "spacing": 5
}
